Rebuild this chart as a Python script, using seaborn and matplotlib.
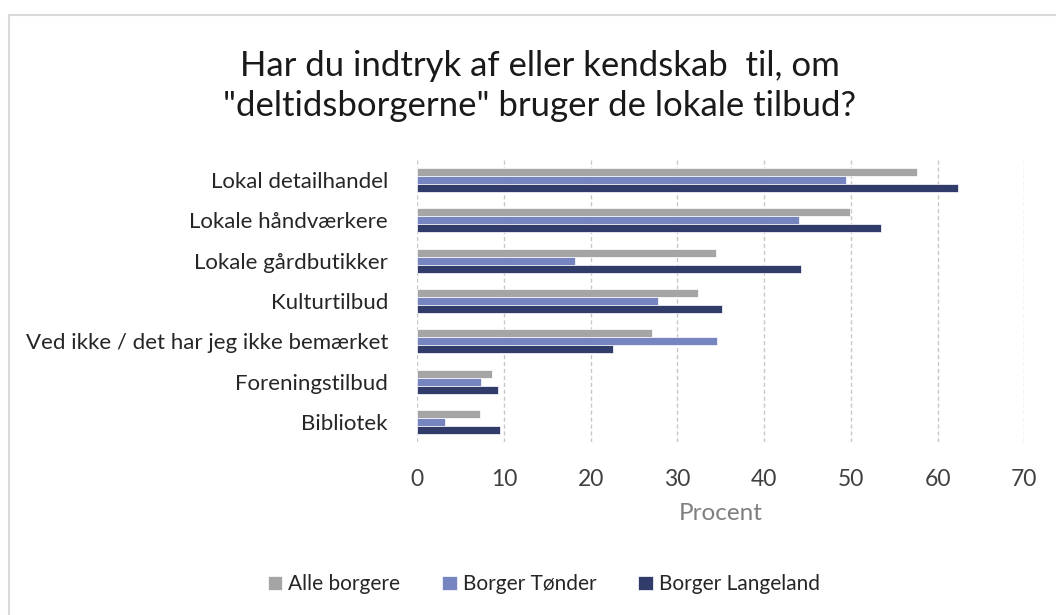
import pandas as pd
import seaborn as sns
import matplotlib.pyplot as plt
from matplotlib.patches import Rectangle

# Data (percent)
categories = ["Lokal detailhandel", "Lokale håndværkere", "Lokale gårdbutikker",
              "Kulturtilbud", "Ved ikke / det har jeg ikke bemærket",
              "Foreningstilbud", "Bibliotek"]
alle_borgere = [57.6, 49.9, 34.5, 32.4, 27.1, 8.6, 7.2]
borger_tonder = [49.5, 44.0, 18.2, 27.8, 34.6, 7.4, 3.2]
borger_langeland = [62.4, 53.5, 44.2, 35.1, 22.6, 9.3, 9.5]
series = ["Alle borgere", "Borger Tønder", "Borger Langeland"]
colors = ["#A5A5A5", "#6A7DCB", "#283673"]

df = pd.concat([
    pd.DataFrame({"kategori": categories, "procent": vals, "gruppe": name})
    for name, vals in zip(series, [alle_borgere, borger_tonder, borger_langeland])
])

sns.set_theme(style="white")
plt.rcParams["font.family"] = ["Lato", "DejaVu Sans"]

fig = plt.figure(figsize=(10.56, 6.15), dpi=100)
ax = fig.add_axes([0.395, 0.281, 0.575, 0.459])

sns.barplot(data=df, y="kategori", x="procent", hue="gruppe", order=categories,
            hue_order=series, palette=colors, orient="h", width=0.6,
            edgecolor="white", linewidth=0.5, ax=ax)

ax.set_xlim(0, 70)
ax.set_xticks(range(0, 71, 10))
ax.grid(axis="x", color="#C8C8C8", linestyle=(0, (3, 2)), linewidth=1)
ax.set_axisbelow(True)
for s in ax.spines.values():
    s.set_visible(False)
ax.tick_params(axis="x", labelsize=16.5, colors="#404040", pad=19, length=0)
ax.tick_params(axis="y", labelsize=16, colors="#262626", pad=21, length=0)
ax.set_ylabel("")
ax.set_xlabel("Procent", fontsize=17.5, color="#7F7F7F", labelpad=10)

ax.legend(ncol=3, frameon=False, fontsize=15, handlelength=0.7, handleheight=0.7,
          handletextpad=0.3, columnspacing=2.0,
          loc="center", bbox_to_anchor=(0.515, 0.05), bbox_transform=fig.transFigure)
for t in ax.get_legend().get_texts():
    t.set_color("#262626")

fig.text(0.511, 0.892, "Har du indtryk af eller kendskab  til, om", ha="center", va="center",
         fontsize=25, color="#1A1A1A")
fig.text(0.511, 0.827, "\"deltidsborgerne\" bruger de lokale tilbud?", ha="center", va="center",
         fontsize=25, color="#1A1A1A")

fig.patches.append(Rectangle((9 / 1056, -0.1), 1.2, 1 - 15 / 615 + 0.1, transform=fig.transFigure,
                             fill=False, edgecolor="#D9D9D9", linewidth=1.5))

fig.savefig("out.png", dpi=100)
